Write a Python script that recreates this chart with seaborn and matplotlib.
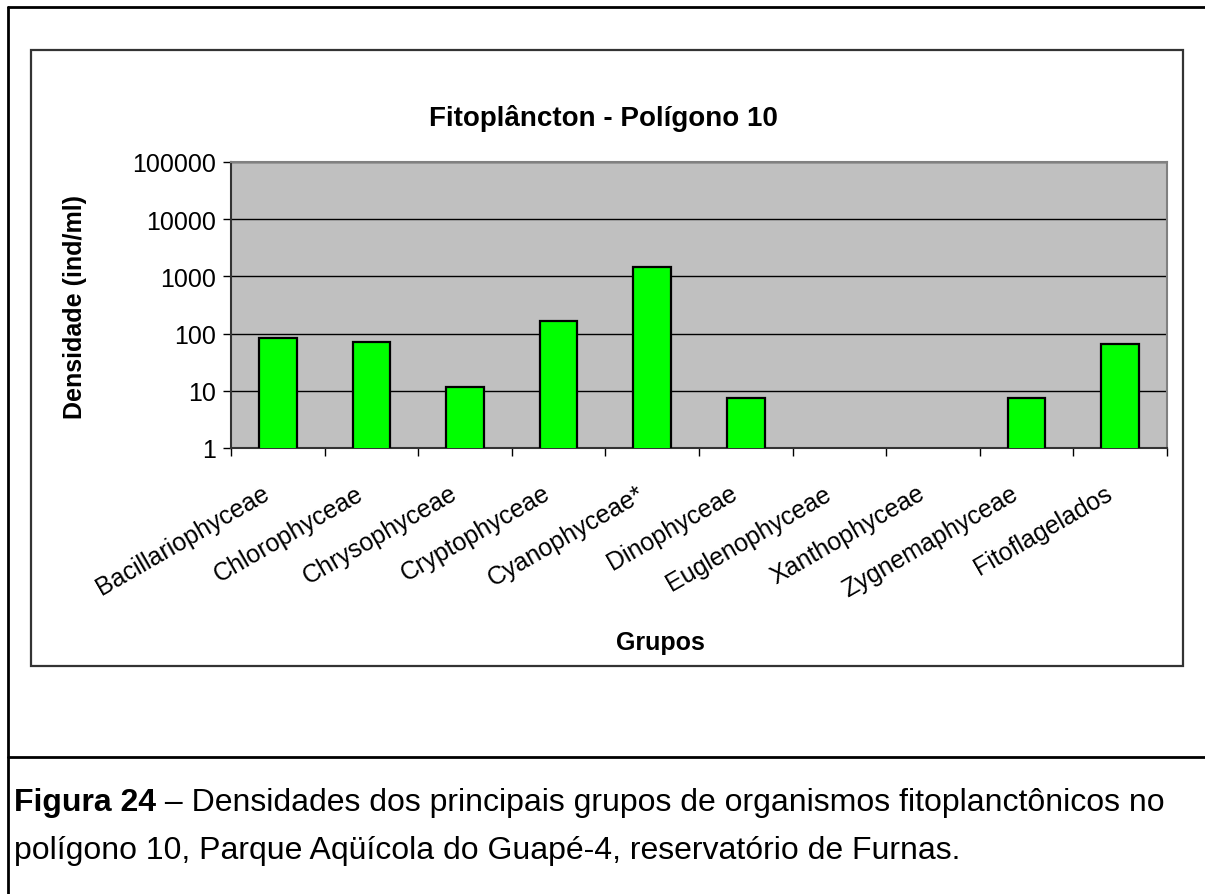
import numpy as np
import pandas as pd
import matplotlib
matplotlib.use("Agg")
import matplotlib.pyplot as plt
import matplotlib.transforms as mtransforms
from matplotlib.patches import Rectangle
from matplotlib.lines import Line2D
import seaborn as sns

# --- data ---
grupos = ["Bacillariophyceae", "Chlorophyceae", "Chrysophyceae", "Cryptophyceae",
          "Cyanophyceae*", "Dinophyceae", "Euglenophyceae", "Xanthophyceae",
          "Zygnemaphyceae", "Fitoflagelados"]
densidade = [83, 72, 11.5, 168, 1480, 7.6, np.nan, np.nan, 7.6, 67]
y_ticks = [1, 10, 100, 1000, 10000, 100000]
y_tick_labels = ["1", "10", "100", "1000", "10000", "100000"]

titulo = "Fitoplâncton - Polígono 10"
ylabel = "Densidade (ind/ml)"
xlabel = "Grupos"
legenda_bold = "Figura 24"
legenda_l1 = " – Densidades dos principais grupos de organismos fitoplanctônicos no"
legenda_l2 = "polígono 10, Parque Aqüícola do Guapé-4, reservatório de Furnas."

df = pd.DataFrame({"Grupo": grupos, "Densidade": densidade})

sns.set_style("white")
plt.rcParams["font.family"] = ["Liberation Sans", "DejaVu Sans"]
plt.rcParams["text.color"] = "black"
plt.rcParams["xtick.color"] = "black"
plt.rcParams["ytick.color"] = "black"
plt.rcParams["xtick.labelcolor"] = "black"
plt.rcParams["ytick.labelcolor"] = "black"

W, H = 1205, 895
fig = plt.figure(figsize=(W / 100, H / 100), dpi=100)


def fx(px):
    return px / W


def fy(py):
    return 1 - py / H


# page frame lines
fig.add_artist(Line2D([fx(8), fx(8)], [fy(8), 0], color="black", lw=2))
fig.add_artist(Line2D([fx(8), 1], [fy(8), fy(8)], color="black", lw=2))
fig.add_artist(Line2D([fx(8), 1], [fy(758), fy(758)], color="black", lw=2))
# chart box
fig.add_artist(Rectangle((fx(31), fy(667)), fx(1183) - fx(31), fy(51) - fy(667),
                         fill=False, edgecolor="#333333", lw=1.6))

ax = fig.add_axes([fx(231), fy(449), fx(1167) - fx(231), fy(163) - fy(449)])
ax.set_facecolor("#C0C0C0")
ax.set_yscale("log")

sns.barplot(data=df, x="Grupo", y="Densidade", order=grupos, color="#00FF00",
            edgecolor="black", linewidth=1.6, width=0.4, saturation=1,
            errorbar=None, ax=ax, zorder=3)

ax.set_ylim(1, 100000)
ax.set_xlim(-0.5, len(grupos) - 0.5)
ax.set_yticks(y_ticks, y_tick_labels)
ax.yaxis.set_minor_locator(matplotlib.ticker.NullLocator())
ax.tick_params(axis="y", which="major", length=6, width=1, color="black",
               labelsize=18, pad=5, left=True)
ax.grid(axis="y", color="black", lw=1, zorder=1)
ax.set_axisbelow(True)

# category labels on major ticks (no marks), tick marks at boundaries
ax.set_xticks(range(len(grupos)))
ax.set_xticklabels(grupos, rotation=30, ha="right", va="center",
                   rotation_mode="anchor", fontsize=18)
ax.set_xticks(np.arange(-0.5, len(grupos), 1), minor=True)
ax.tick_params(axis="x", which="major", length=0, pad=31)
ax.tick_params(axis="x", which="minor", length=6, width=1, color="black", bottom=True)
offset = mtransforms.ScaledTranslation(-10 / 100, 0, fig.dpi_scale_trans)
for lab in ax.get_xticklabels():
    lab.set_transform(lab.get_transform() + offset)

for side in ["top", "right"]:
    ax.spines[side].set_color("#808080")
    ax.spines[side].set_linewidth(1.5)
for side in ["left", "bottom"]:
    ax.spines[side].set_color("#333333")
    ax.spines[side].set_linewidth(1.5)

ax.set_xlabel("")
ax.set_ylabel("")
fig.text(fx(603), fy(118), titulo, ha="center", va="center", fontsize=20,
         fontweight="bold")
fig.text(fx(75), fy(307), ylabel, ha="center", va="center", rotation=90,
         fontsize=18, fontweight="bold")
fig.text(fx(660), fy(643), xlabel, ha="center", va="center", fontsize=18,
         fontweight="bold")

# caption
t_bold = fig.text(fx(14), fy(803), legenda_bold, ha="left", va="center",
                  fontsize=23, fontweight="bold")
ax.annotate(legenda_l1, xy=(1, 0.5), xycoords=t_bold, ha="left", va="center",
            fontsize=23, annotation_clip=False)
fig.text(fx(14), fy(851), legenda_l2, ha="left", va="center", fontsize=23)

fig.savefig("out.png", dpi=100)
